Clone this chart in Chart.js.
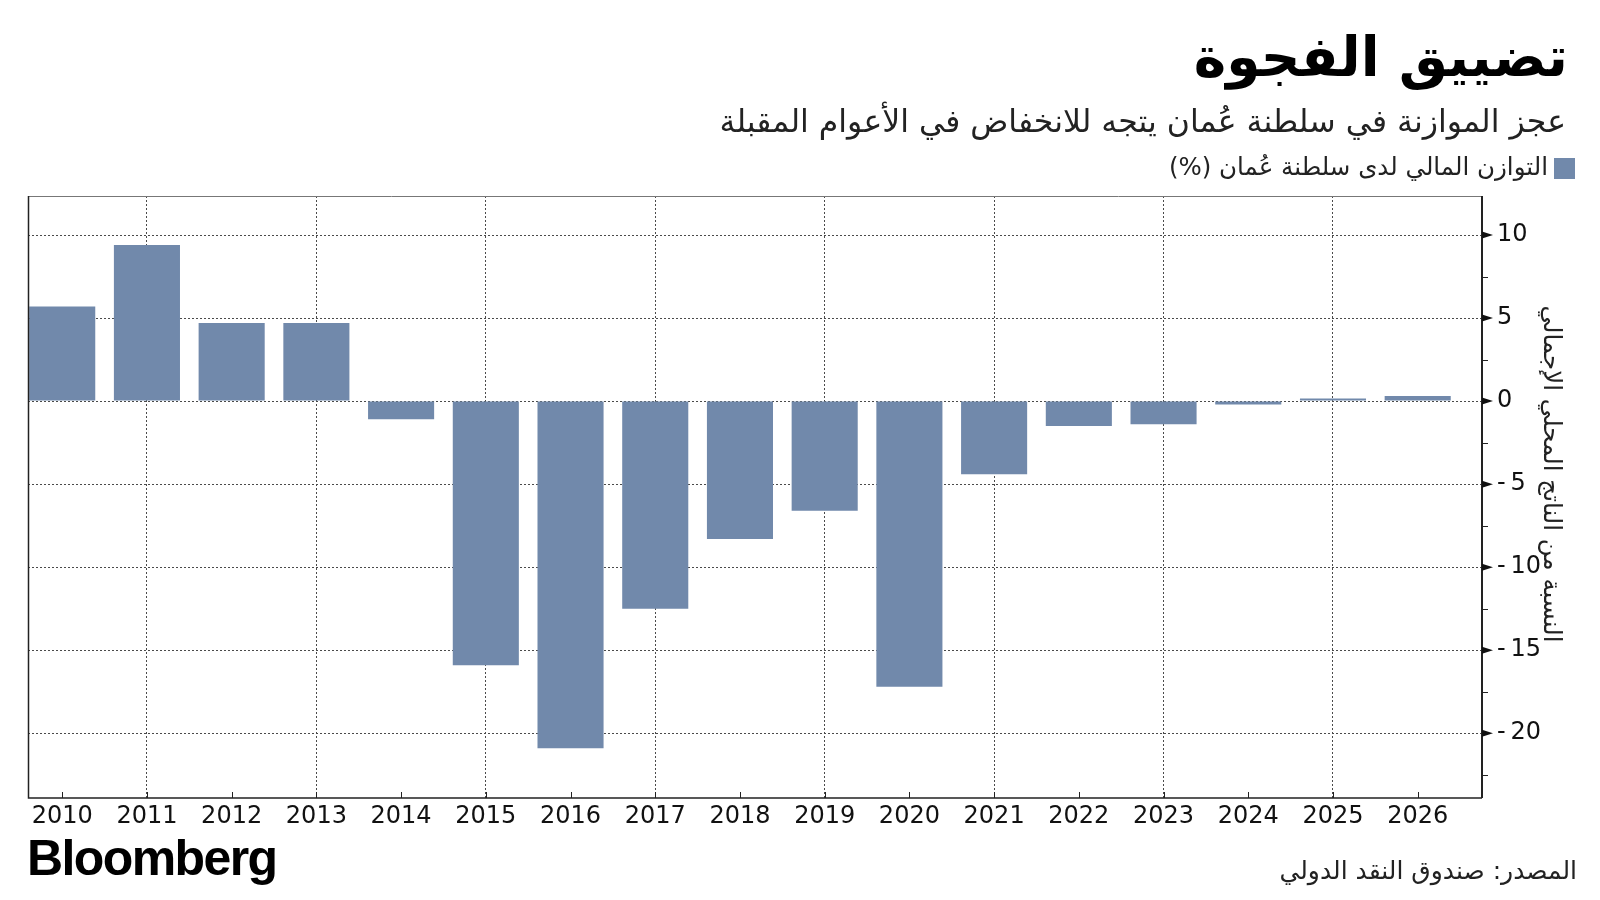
<!DOCTYPE html>
<html lang="ar">
<head>
<meta charset="utf-8">
<title>تضييق الفجوة</title>
<script src="https://cdn.jsdelivr.net/npm/chart.js@4/dist/chart.umd.min.js"></script>
<style>
    body { margin: 0; background: #fff; }
    #page { position: relative; width: 1600px; height: 900px; background: #fff; overflow: hidden; }
    #chart-container { position: absolute; left: 0; top: 0; width: 1600px; height: 900px; }
    .ar { position: absolute; direction: rtl; font-family: "DejaVu Sans", sans-serif; color: #111; white-space: nowrap; }
    #title { right: 32px; top: 22px; font-size: 55px; font-weight: bold; line-height: 70px; color: #000; }
    #subtitle { right: 34px; top: 101px; font-size: 31.5px; line-height: 40px; color: #222; }
    #legend { right: 52px; top: 152px; font-size: 24.5px; line-height: 30px; color: #222; }
    #legend-box { position: absolute; left: 1554px; top: 158px; width: 21px; height: 21px; background: #7189ab; }
    #ytitle { left: 1352px; top: 459px; width: 400px; text-align: center; font-size: 24.5px; line-height: 30px; transform: rotate(90deg); color: #222; }
    #source { right: 23px; top: 855px; font-size: 25px; line-height: 32px; color: #222; }
    #logo { position: absolute; left: 27px; top: 828px; font-family: "Liberation Sans", Arial, sans-serif; font-weight: bold; font-size: 50px; letter-spacing: -1.6px; line-height: 60px; color: #000; }
</style>
</head>
<body>
<div id="page">
    <div id="chart-container"><canvas id="balance-chart"></canvas></div>
    <div class="ar" id="title">تضييق الفجوة</div>
    <div class="ar" id="subtitle">عجز الموازنة في سلطنة عُمان يتجه للانخفاض في الأعوام المقبلة</div>
    <div id="legend-box"></div>
    <div class="ar" id="legend">التوازن المالي لدى سلطنة عُمان (%)</div>
    <div class="ar" id="ytitle">النسبة من الناتج المحلي الإجمالي</div>
    <div id="logo">Bloomberg</div>
    <div class="ar" id="source">المصدر: صندوق النقد الدولي</div>
</div>
<script>
const years = [2010, 2011, 2012, 2013, 2014, 2015, 2016, 2017, 2018, 2019, 2020, 2021, 2022, 2023, 2024, 2025, 2026];
const balance = [5.7, 9.4, 4.7, 4.7, -1.1, -15.9, -20.9, -12.5, -8.3, -6.6, -17.2, -4.4, -1.5, -1.4, -0.2, 0.15, 0.3];

const yTicks = [-20, -15, -10, -5, 0, 5, 10];
const yMinorTicks = [-22.5, -17.5, -12.5, -7.5, -2.5, 2.5, 7.5];

const barColor = '#7189ab';
const gridColor = '#4a4a4a';

// Frame, small inside ticks on the x axis, minor ticks and arrow heads on the y axis
const axisDecorations = {
    id: 'axisDecorations',
    afterDraw(chart) {
        const { ctx, chartArea: a, scales: { x, y } } = chart;
        ctx.save();

        ctx.strokeStyle = '#777';
        ctx.lineWidth = 1;
        ctx.beginPath();
        ctx.moveTo(a.left, a.top + 0.5);
        ctx.lineTo(a.right, a.top + 0.5);
        ctx.stroke();

        ctx.strokeStyle = '#222';
        ctx.lineWidth = 1.5;
        ctx.beginPath();
        ctx.moveTo(a.left + 0.5, a.top);
        ctx.lineTo(a.left + 0.5, a.bottom);
        ctx.lineTo(a.right, a.bottom);
        ctx.stroke();

        ctx.lineWidth = 2;
        ctx.beginPath();
        ctx.moveTo(a.right, a.top);
        ctx.lineTo(a.right, a.bottom);
        ctx.stroke();

        ctx.lineWidth = 1;
        years.forEach(yr => {
            const px = Math.round(x.getPixelForValue(yr)) + 0.5;
            ctx.beginPath();
            ctx.moveTo(px, a.bottom);
            ctx.lineTo(px, a.bottom - 6);
            ctx.stroke();
        });

        yMinorTicks.forEach(v => {
            const py = Math.round(y.getPixelForValue(v)) + 0.5;
            ctx.beginPath();
            ctx.moveTo(a.right, py);
            ctx.lineTo(a.right + 6, py);
            ctx.stroke();
        });

        ctx.fillStyle = '#111';
        yTicks.forEach(v => {
            const py = y.getPixelForValue(v);
            ctx.beginPath();
            ctx.moveTo(a.right, py - 3.5);
            ctx.lineTo(a.right + 11, py);
            ctx.lineTo(a.right, py + 3.5);
            ctx.closePath();
            ctx.fill();
        });

        ctx.restore();
    }
};

function formatTick(value) {
    return value < 0 ? '-\u2009' + Math.abs(value) : String(value);
}

document.addEventListener('DOMContentLoaded', function() {
    const ctx = document.getElementById('balance-chart');

    new Chart(ctx, {
        type: 'bar',
        data: {
            datasets: [
                {
                    label: 'التوازن المالي لدى سلطنة عُمان (%)',
                    data: years.map((yr, i) => ({ x: yr, y: balance[i] })),
                    backgroundColor: barColor,
                    borderWidth: 0,
                    categoryPercentage: 1,
                    barPercentage: 0.78
                }
            ]
        },
        options: {
            responsive: true,
            maintainAspectRatio: false,
            animation: false,
            layout: {
                padding: { left: 28, top: 196, right: 0, bottom: 0 }
            },
            plugins: {
                legend: { display: false },
                tooltip: { enabled: false }
            },
            scales: {
                x: {
                    type: 'linear',
                    offset: false,
                    min: 2009.596,
                    max: 2026.759,
                    afterBuildTicks: scale => {
                        scale.ticks = years.map(yr => ({ value: yr }));
                    },
                    afterFit: scale => { scale.height = 102; },
                    ticks: {
                        callback: value => String(value),
                        font: { family: 'DejaVu Sans', size: 24 },
                        color: '#111',
                        padding: 4,
                        maxRotation: 0,
                        autoSkip: false
                    },
                    grid: {
                        offset: false,
                        drawTicks: false,
                        lineWidth: 1,
                        color: c => (c.tick && c.tick.value % 2 === 1) ? gridColor : 'rgba(0,0,0,0)'
                    },
                    border: { display: false, dash: [2, 2] }
                },
                y: {
                    position: 'right',
                    min: -23.9,
                    max: 12.35,
                    afterBuildTicks: scale => {
                        scale.ticks = yTicks.map(v => ({ value: v }));
                    },
                    afterFit: scale => { scale.width = 118; },
                    ticks: {
                        callback: value => formatTick(value),
                        font: { family: 'DejaVu Sans', size: 24 },
                        color: '#111',
                        padding: 15
                    },
                    grid: {
                        drawTicks: false,
                        lineWidth: 1,
                        color: gridColor
                    },
                    border: { display: false, dash: [2, 2] }
                }
            }
        },
        plugins: [axisDecorations]
    });
});
</script>
</body>
</html>
